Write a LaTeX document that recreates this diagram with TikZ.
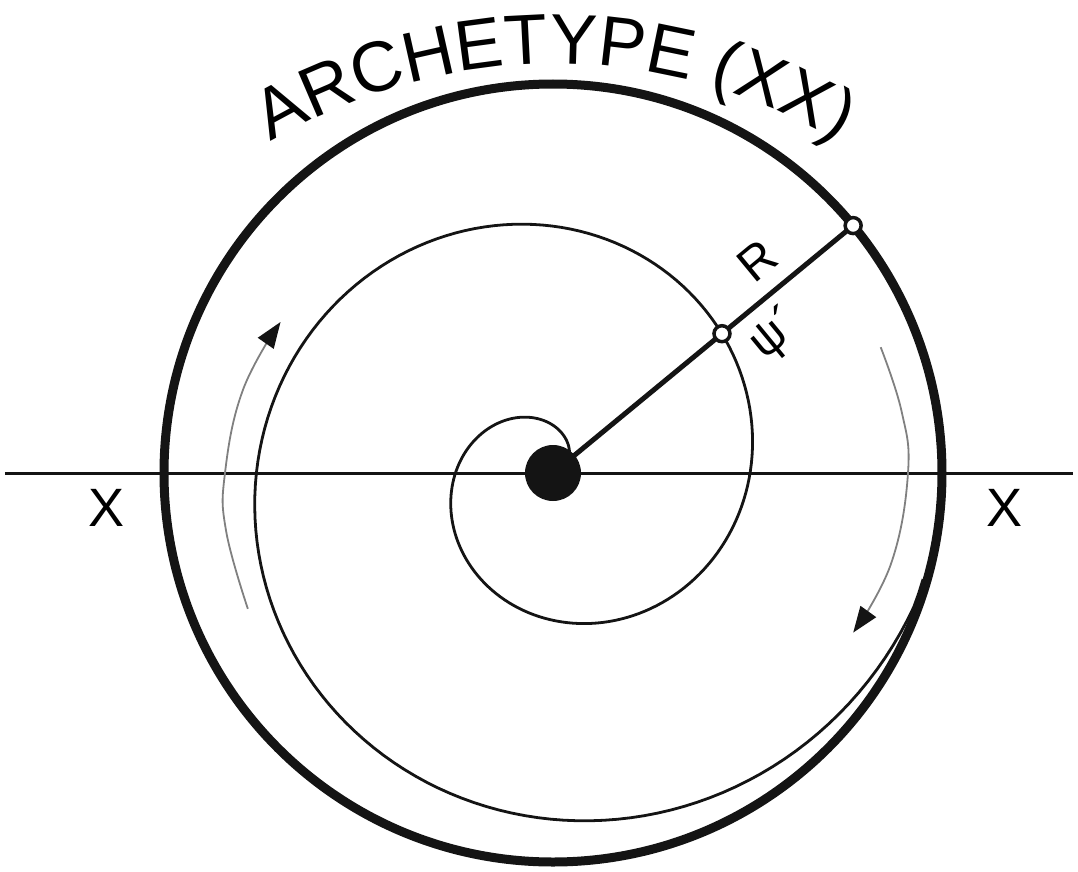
\documentclass[tikz,border=0pt]{standalone}
\usepackage{fontspec}
\setmainfont{Liberation Sans}
\usetikzlibrary{arrows.meta,decorations.text}
\definecolor{ink}{HTML}{141414}
\definecolor{guide}{HTML}{808080}
\newcommand{\ArchFont}{\fontsize{71}{71}\selectfont}
\newcommand{\AxisFont}{\fontsize{54}{54}\selectfont}
\newcommand{\MarkFont}{\fontsize{48}{48}\selectfont}

\begin{document}
\begin{tikzpicture}[x=1pt,y=1pt,
 rim/.style={ink,line width=9pt},
 axisline/.style={ink,line width=3pt},
 spiral/.style={ink,line width=2.8pt,line join=round},
 flow/.style={guide,line width=1.8pt,
   -{Triangle[length=26pt,width=19pt,color=ink]}},
 pin/.style={circle,fill=white,draw=ink,line width=3.5pt,
   minimum size=16pt,inner sep=0pt},
 hub/.style={circle,fill=ink,minimum size=56pt,inner sep=0pt}]

\useasboundingbox (-553,-398) rectangle (525,473);
\coordinate (O) at (0,0);
\coordinate (XL) at (-548,0);
\coordinate (XR) at (520,0);
\draw[rim] (O) circle (389pt);
\draw[axisline] (XL) -- (XR);
% Archimedean spiral around the hub, running into the rim at the lower right.
\draw[spiral] plot[domain=50:704,samples=300,variable=\t]
  ({min(0.553*\t-2,385)*cos(\t)},{min(0.553*\t-2,385)*sin(\t)});
\draw[flow] plot[smooth,tension=0.7] coordinates
  {(204:334) (190:332) (180:328) (165:321) (151:311.5)};
\draw[flow] plot[smooth,tension=0.7] coordinates
  {(21:351) (10:354) (0:355) (-15:350) (-28:340)};
\coordinate (Rout) at (39.5:389);
\draw[ink,line width=5pt] (O) -- (Rout);
\node[pin] (Pin) at (39.5:219) {};
\node[pin] (Pout) at (Rout) {};
\node[hub] (hub) at (O) {};
\node[rotate=39.5,inner sep=0pt] (Rlab) at (204,212) {\MarkFont R};
\node[rotate=39.5,inner sep=0pt] (Psilab) at (223,138) {\MarkFont ψ´};
\node[inner sep=0pt] (xleft) at (-446,-35) {\AxisFont X};
\node[inner sep=0pt] (xright) at (452,-35) {\AxisFont X};
\path[decorate,decoration={text along path,text align=center,
  text={|\ArchFont|ARCHETYPE (XX)}}]
  (2,-145) ++(150:554pt) arc[start angle=150,end angle=30,radius=554pt];
\end{tikzpicture}
\end{document}
